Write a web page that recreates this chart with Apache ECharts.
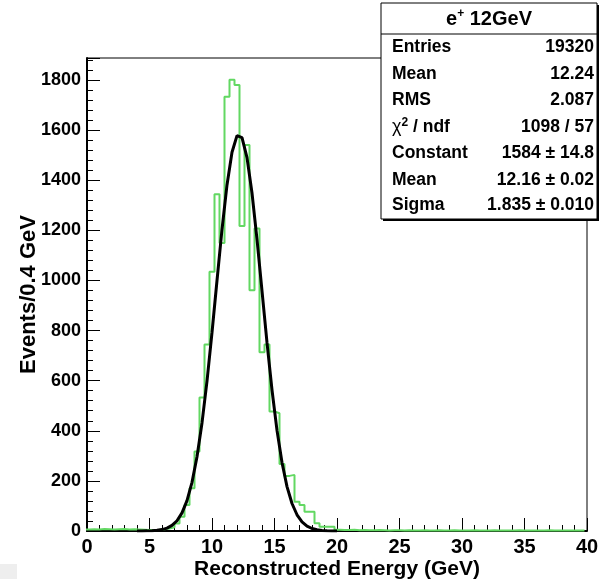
<!DOCTYPE html>
<html><head><meta charset="utf-8">
<script src="https://cdn.jsdelivr.net/npm/echarts@6/dist/echarts.min.js"></script>
<style>html,body{margin:0;padding:0;background:#fff}#c{width:599px;height:581px}</style>
</head><body><div id="c"></div>
<script>
// Histogram: 100 bins of 0.4 GeV
const binLowEdge = -0.2;
const binWidth = 0.4;
const counts = [
  6, 7, 6, 8, 7, 6, 7, 8, 6, 7,
  6, 5, 4, 4, 5, 7, 10, 15, 30, 57,
  104, 171, 317, 533, 744, 1035, 1344, 1150, 1733, 1801,
  1780, 1217, 1541, 961, 1207, 713, 744, 477, 470, 267,
  220, 224, 117, 104, 77, 77, 31, 17, 17, 17,
  5, 4, 4, 5, 3, 4, 3, 3, 4, 3,
  2, 3, 3, 2, 3, 2, 2, 3, 2, 2,
  3, 2, 2, 3, 2, 2, 2, 3, 2, 2,
  2, 3, 2, 2, 2, 2, 3, 2, 2, 2,
  2, 2, 3, 2, 2, 2, 2, 2, 2, 2
];
// Gaussian fit curve as drawn (sampled points)
const fitX = [4.0,4.4,4.8,5.2,5.6,6.0,6.4,6.8,7.2,7.6,8.0,8.4,8.8,9.2,9.6,10.0,10.4,10.8,11.2,11.6,12.0,12.4,12.8,13.2,13.6,14.0,14.4,14.8,15.2,15.6,16.0,16.4,16.8,17.2,17.6,18.0,18.4,18.8,19.2,19.6,20.0];
const fitY = [0.1,0.2,0.5,1.2,2.7,5.7,11.5,22.2,41.0,72.2,121.2,194.2,296.3,431.3,598.5,792.3,999.9,1203.6,1381.4,1511.9,1578.0,1570.5,1490.5,1349.0,1164.2,958.1,751.9,562.7,401.6,273.3,177.3,109.8,64.8,36.4,19.6,10.0,4.9,2.3,1.0,0.4,0.2];
// Stats box texts
const statTitle = ['e', '+', ' 12GeV'];
const statLabels = ['Entries', 'Mean', 'RMS', 'CHI', 'Constant', 'Mean', 'Sigma'];
const statValues = ['19320', '12.24', '2.087', '1098 / 57', '1584 \u00b1 14.8', '12.16 \u00b1 0.02', '1.835 \u00b1 0.010'];
const xTitle = 'Reconstructed Energy (GeV)';
const yTitle = 'Events/0.4 GeV';

const FONT = 'Liberation Sans, Arial, Helvetica, sans-serif';
const GREEN = '#62d862';

const histPts = [];
counts.forEach((v, i) => {
  const x0 = binLowEdge + i * binWidth;
  histPts.push([x0, v], [x0 + binWidth, v]);
});
const fitPts = fitX.map((x, i) => [x, fitY[i]]);

const chart = echarts.init(document.getElementById('c'), null, {renderer: 'canvas'});

const gfx = [];
const BX = 381, BY = 3, BW = 216, BH = 216;
gfx.push({type: 'rect', shape: {x: 0, y: 564, width: 17, height: 15}, style: {fill: '#eeeeee'}, z: 100});
gfx.push({type: 'rect', shape: {x: BX + 2, y: BY + 2, width: BW, height: BH}, style: {fill: '#000'}, z: 100});
gfx.push({type: 'rect', shape: {x: BX, y: BY, width: BW, height: BH}, style: {fill: '#fff', stroke: '#000', lineWidth: 1}, z: 101});
gfx.push({type: 'line', shape: {x1: BX, y1: 34, x2: BX + BW, y2: 34}, style: {stroke: '#000', lineWidth: 1}, z: 102});
gfx.push({type: 'text', x: BX + BW / 2, y: 19, z: 103, style: {
  text: '{b|' + statTitle[0] + '}{s|' + statTitle[1] + '}{b|' + statTitle[2] + '}',
  align: 'center', verticalAlign: 'middle',
  rich: {
    b: {fontFamily: FONT, fontWeight: 'bold', fontSize: 20, fill: '#000', lineHeight: 22},
    s: {fontFamily: FONT, fontWeight: 'bold', fontSize: 12, fill: '#000', verticalAlign: 'top', lineHeight: 22, padding: [0, 0, 8, 0]}
  }
}});
const rowY = [47, 74, 100, 127, 153, 180, 205];
statLabels.forEach((lab, i) => {
  let txt;
  const rich = {
    b: {fontFamily: FONT, fontWeight: 'bold', fontSize: 17.5, fill: '#000'},
    g: {fontFamily: FONT, fontSize: 18, fill: '#000'},
    s: {fontFamily: FONT, fontWeight: 'bold', fontSize: 12, fill: '#000', padding: [0, 0, 8, 0]}
  };
  if (lab === 'CHI') txt = '{g|\u03c7}{s|2}{b| / ndf}';
  else txt = '{b|' + lab + '}';
  gfx.push({type: 'text', x: BX + 11, y: rowY[i], z: 103, style: {text: txt, rich: rich, align: 'left', verticalAlign: 'middle'}});
  gfx.push({type: 'text', x: BX + BW - 3, y: rowY[i], z: 103, style: {
    text: statValues[i], fontFamily: FONT, fontWeight: 'bold', fontSize: 17.5, fill: '#000', align: 'right', verticalAlign: 'middle'}});
});

chart.setOption({
  animation: false,
  backgroundColor: '#fff',
  grid: {left: 87, right: 12, top: 58, bottom: 50, show: true, borderColor: '#000', borderWidth: 1,
    backgroundColor: 'transparent', containLabel: false, outerBoundsMode: 'none'},
  xAxis: {
    type: 'value', min: 0, max: 40, interval: 5,
    axisLine: {onZero: false, lineStyle: {color: '#000', width: 2}},
    axisTick: {inside: true, length: 13, lineStyle: {color: '#000', width: 1}},
    minorTick: {show: true, splitNumber: 5, length: 6, lineStyle: {color: '#000', width: 1}},
    splitLine: {show: false},
    axisLabel: {color: '#000', fontFamily: FONT, fontWeight: 'bold', fontSize: 20, margin: 6},
    name: xTitle, nameLocation: 'middle', nameGap: 28, nameMoveOverlap: false,
    nameTextStyle: {color: '#000', fontFamily: FONT, fontWeight: 'bold', fontSize: 21, verticalAlign: 'top'}
  },
  yAxis: {
    type: 'value', min: 0, max: 1888, interval: 200,
    axisLine: {onZero: false, lineStyle: {color: '#000', width: 2}},
    axisTick: {inside: true, length: 13, lineStyle: {color: '#000', width: 1}},
    minorTick: {show: true, splitNumber: 5, length: 6, lineStyle: {color: '#000', width: 1}},
    splitLine: {show: false},
    axisLabel: {color: '#000', fontFamily: FONT, fontWeight: 'bold', fontSize: 18, margin: 6, showMaxLabel: false,
      formatter: v => (v % 200 === 0 ? String(v) : '')},
    name: yTitle, nameLocation: 'middle', nameGap: 47, nameMoveOverlap: false,
    nameTextStyle: {color: '#000', fontFamily: FONT, fontWeight: 'bold', fontSize: 22}
  },
  series: [
    {type: 'line', data: histPts, showSymbol: false, symbol: 'none', clip: true,
     lineStyle: {color: GREEN, width: 2}, z: 2},
    {type: 'line', data: fitPts, showSymbol: false, symbol: 'none', clip: true, smooth: false,
     lineStyle: {color: '#000', width: 3}, z: 3}
  ],
  graphic: gfx
});
</script></body></html>
